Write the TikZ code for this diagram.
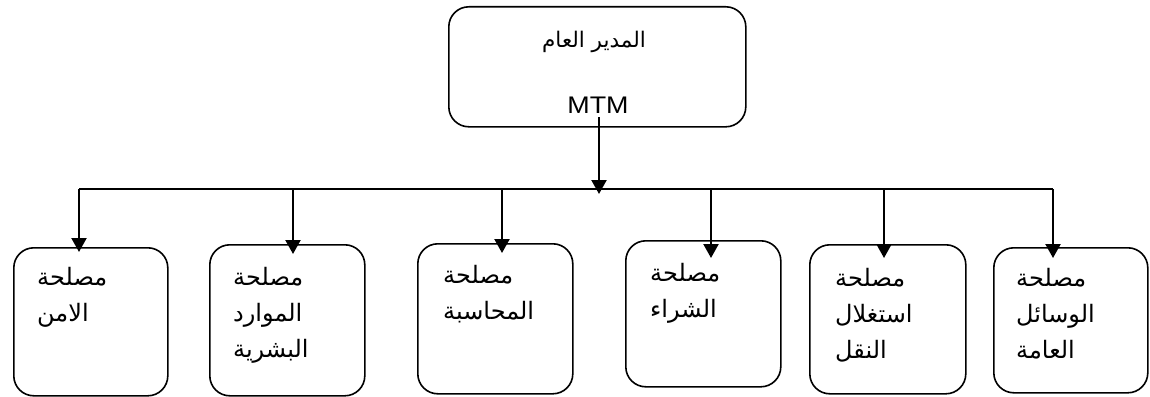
\documentclass[tikz,border=0pt]{standalone}
\usepackage{fontspec}
\setmainfont{Liberation Sans}
\newfontfamily\arabicfont[Script=Arabic]{DejaVu Sans}
\TeXXeTstate=1
\usetikzlibrary{arrows.meta}
\newcommand\artext[1]{{\arabicfont\beginR #1\endR}}

\begin{document}
\begin{tikzpicture}[x=1pt,y=-1pt,
  unit/.style={draw, line width=1.6pt, rounded corners=20pt, inner sep=0pt, anchor=north west},
  link/.style={line width=2.2pt},
  drop/.style={line width=2.2pt, -{Triangle[width=15pt,length=14pt]}},
  unitlabel/.style={anchor=north west, inner sep=0pt, align=left, font=\fontsize{24}{36}\selectfont}]
\useasboundingbox (0,0) rectangle (1150,396);

% general manager
\node[unit, minimum width=297pt, minimum height=120pt] (gm) at (448,6) {};
\node[font=\fontsize{21.5}{24}\selectfont, inner sep=0pt] (gmtitle) at (594,42) {\artext{المدير العام}};
\node[font=\fontsize{24}{24}\selectfont, inner sep=0pt] (gmcode) at (598,105) {\scalebox{1.12}[1]{MTM}};

% departments
\node[unit, minimum width=154pt, minimum height=148pt] (u1) at (13,247) {};
\node[unit, minimum width=155pt, minimum height=151pt] (u2) at (209,244) {};
\node[unit, minimum width=155pt, minimum height=150pt] (u3) at (417,243) {};
\node[unit, minimum width=155pt, minimum height=146pt] (u4) at (625,240) {};
\node[unit, minimum width=156pt, minimum height=149pt] (u5) at (809,244) {};
\node[unit, minimum width=154pt, minimum height=145pt] (u6) at (993,247) {};

\node[unitlabel] (t1) at (37,267) {\artext{مصلحة}\\\artext{الامن}};
\node[unitlabel] (t2) at (233,267) {\artext{مصلحة}\\\artext{الموارد}\\\artext{البشرية}};
\node[unitlabel] (t3) at (443,265) {\artext{مصلحة}\\\artext{المحاسبة}};
\node[unitlabel] (t4) at (650,263) {\artext{مصلحة}\\\artext{الشراء}};
\node[unitlabel] (t5) at (835,268) {\artext{مصلحة}\\\artext{استغلال}\\\artext{النقل}};
\node[unitlabel] (t6) at (1016,268) {\artext{مصلحة}\\\artext{الوسائل}\\\artext{العامة}};

% connector points
\coordinate (gmout) at (599,117);
\coordinate (busin) at (599,194);
\coordinate (b1) at (79,189);
\coordinate (b2) at (293,189);
\coordinate (b3) at (502,189);
\coordinate (b4) at (711,189);
\coordinate (b5) at (884,189);
\coordinate (b6) at (1053,189);
\coordinate (e1) at (79,252);
\coordinate (e2) at (293,254);
\coordinate (e3) at (502,253);
\coordinate (e4) at (711,258);
\coordinate (e5) at (884,258);
\coordinate (e6) at (1053,258);

\draw[link] (b1) -- (b6);
\draw[drop] (gmout) -- (busin);
\foreach \i in {1,...,6} \draw[drop] (b\i) -- (e\i);
\end{tikzpicture}
\end{document}
